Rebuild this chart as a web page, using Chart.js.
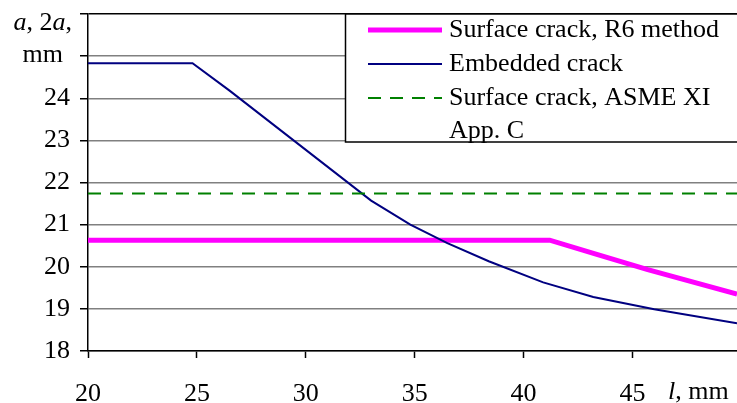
<!DOCTYPE html>
<html>
<head>
<meta charset="utf-8">
<script src="https://cdn.jsdelivr.net/npm/chart.js@4/dist/chart.umd.min.js"></script>
<style>
  html,body{margin:0;padding:0;background:#fff;}
  #wrap{width:737px;height:403px;position:relative;}
</style>
</head>
<body>
<div id="wrap"><canvas id="c"></canvas></div>
<script>
// crack size vs. length l (mm)
const r6X   = [20, 41.2, 43.4, 45.7, 49.8];
const r6Y   = [20.63, 20.63, 20.29, 19.93, 19.35];
const embX  = [20, 24.8, 26.5, 33.0, 34.8, 36.5, 38.4, 40.9, 43.2, 46.0, 49.8];
const embY  = [24.83, 24.83, 24.18, 21.57, 21.0, 20.56, 20.13, 19.63, 19.28, 18.99, 18.66];
const asmeX = [20, 49.8];
const asmeY = [21.74, 21.74];
const xTicks = [20, 25, 30, 35, 40, 45];
const LABELS = ['Surface crack, R6 method', 'Embedded crack', 'Surface crack, ASME XI App. C'];

const pts = (xs, ys) => xs.map((x, i) => ({x, y: ys[i]}));
const FONT = '"Liberation Serif", "Times New Roman", serif';

Chart.defaults.font.family = FONT;
Chart.defaults.font.size = 26;
Chart.defaults.color = '#000';

// legend box + axis captions with italic symbols
const extras = {
  id: 'extras',
  afterDraw(chart) {
    const ctx = chart.ctx, ds = chart.data.datasets;
    ctx.save();
    ctx.fillStyle = '#fff';
    ctx.fillRect(345, 14, 400, 128);
    ctx.strokeStyle = '#000';
    ctx.lineWidth = 1.5;
    ctx.strokeRect(345.5, 14, 400, 128);

    const rows = [30, 64, 98];
    ctx.font = '26px ' + FONT;
    ctx.textBaseline = 'middle';
    ds.forEach((d, i) => {
      const y = rows[i];
      ctx.beginPath();
      ctx.strokeStyle = d.borderColor;
      ctx.lineWidth = d.borderWidth;
      ctx.setLineDash(d.borderDash || []);
      ctx.moveTo(368, y); ctx.lineTo(442, y);
      ctx.stroke();
      ctx.setLineDash([]);
      ctx.fillStyle = '#000';
      // wrap long label
      const words = d.label.split(' ');
      let line = '', yy = y;
      words.forEach(w => {
        const t = line ? line + ' ' + w : w;
        if (ctx.measureText(t).width > 280 && line) {
          ctx.fillText(line, 449, yy); line = w; yy += 33;
        } else line = t;
      });
      ctx.fillText(line, 449, yy);
    });

    // mixed italic text helper
    const run = (parts, x, y, align) => {
      ctx.textBaseline = 'alphabetic';
      ctx.textAlign = 'left';
      let w = 0;
      parts.forEach(p => { ctx.font = (p[1] ? 'italic ' : '') + '26px ' + FONT; w += ctx.measureText(p[0]).width; });
      let cx = align === 'right' ? x - w : x;
      parts.forEach(p => {
        ctx.font = (p[1] ? 'italic ' : '') + '26px ' + FONT;
        ctx.fillText(p[0], cx, y);
        cx += ctx.measureText(p[0]).width;
      });
    };
    run([['a', 1], [', 2', 0], ['a', 1], [',', 0]], 72, 30, 'right');
    run([['mm', 0]], 63, 62, 'right');
    run([['l', 1], [', mm', 0]], 668, 399, 'left');
    ctx.restore();
  }
};

new Chart(document.getElementById('c'), {
  type: 'line',
  data: {
    datasets: [
      {label: LABELS[0], data: pts(r6X, r6Y), borderColor: '#ff00ff', borderWidth: 5, order: 2},
      {label: LABELS[1], data: pts(embX, embY), borderColor: '#000080', borderWidth: 2, order: 1},
      {label: LABELS[2], data: pts(asmeX, asmeY), borderColor: '#008000', borderWidth: 2, borderDash: [13, 9], order: 0}
    ]
  },
  options: {
    responsive: true,
    maintainAspectRatio: false,
    animation: false,
    layout: {padding: {top: 14, right: 0, left: 0, bottom: 0}},
    elements: {point: {radius: 0}, line: {tension: 0}},
    plugins: {legend: {display: false}, tooltip: {enabled: false}},
    scales: {
      x: {
        type: 'linear', min: 20, max: 49.8,
        afterBuildTicks: s => { s.ticks = xTicks.map(v => ({value: v})); },
        afterFit: s => { s.height = 52; s.paddingLeft = 0; s.paddingRight = 0; },
        grid: {drawOnChartArea: false, drawTicks: true, tickLength: 7, tickColor: '#000', tickWidth: 1.5},
        border: {color: '#000', width: 1.5},
        ticks: {padding: 21, maxRotation: 0, autoSkip: false}
      },
      y: {
        min: 18, max: 26,
        afterFit: s => { s.width = 88; s.paddingTop = 0; s.paddingBottom = 0; },
        grid: {
          color: c => c.tick && c.tick.value === 26 ? '#000' : '#808080',
          lineWidth: 1.5, tickLength: 8, tickColor: '#000', tickWidth: 1.5
        },
        border: {color: '#000', width: 1.5},
        ticks: {stepSize: 1, padding: 10, callback: v => v <= 24 ? v : ''}
      }
    }
  },
  plugins: [extras]
});
</script>
</body>
</html>
